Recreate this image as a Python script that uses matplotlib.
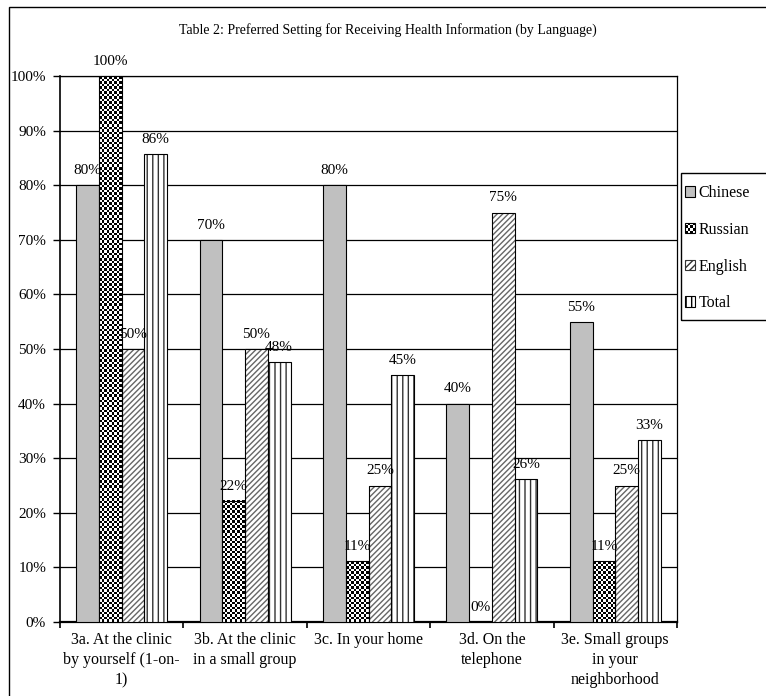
import numpy as np
import matplotlib.pyplot as plt
from matplotlib.patches import Rectangle
from matplotlib.legend_handler import HandlerBase

plt.rcParams['font.family'] = ['Liberation Serif', 'DejaVu Serif']
plt.rcParams['hatch.linewidth'] = 1.0

# data
categories = ['3a. At the clinic\nby yourself (1-on-\n1)', '3b. At the clinic\nin a small group',
              '3c. In your home', '3d. On the\ntelephone', '3e. Small groups\nin your\nneighborhood']
series = ['Chinese', 'Russian', 'English', 'Total']
chinese = [80, 70, 80, 40, 55]
russian = [100, 22.2, 11.1, 0, 11.1]
english = [50, 50, 25, 75, 25]
total = [85.7, 47.6, 45.2, 26.2, 33.3]
values = [chinese, russian, english, total]
title = 'Table 2: Preferred Setting for Receiving Health Information (by Language)'

W, H = 766, 696
fig = plt.figure(figsize=(W / 100, H / 100), dpi=100)
ax = fig.add_axes([60 / W, 1 - 622 / H, 617 / W, 546 / H])

x = np.arange(len(categories))
bw = 0.184
offs = [-1.5 * bw, -0.5 * bw, 0.5 * bw, 1.5 * bw]

ax.set_xlim(-0.5, len(categories) - 0.5)
ax.set_ylim(0, 100)

# chinese - grey fill
ax.bar(x + offs[0], chinese, bw, color='#c0c0c0', edgecolor='black', lw=0.8, zorder=3)

# russian - checkerboard image clipped into each bar
px_per_unit_y = 546 / 100.0
for xi, v in zip(x + offs[1], russian):
    if v <= 0:
        continue
    ncol = 9
    nrow = max(1, int(round(v * px_per_unit_y / (22.7 / ncol))))
    ii, jj = np.indices((nrow, ncol))
    chk = ((ii + jj) % 2).astype(float)
    ax.imshow(chk, cmap='gray', vmin=0, vmax=1, aspect='auto', interpolation='nearest',
              extent=(xi - bw / 2, xi + bw / 2, 0, v), zorder=3)
ax.bar(x + offs[1], russian, bw, fill=False, edgecolor='black', lw=0.8, zorder=4)

# english - diagonal hatch
ax.bar(x + offs[2], english, bw, color='white', edgecolor='#666666', hatch='//////', lw=0, zorder=3)
ax.bar(x + offs[2], english, bw, fill=False, edgecolor='black', lw=0.8, zorder=4)

# total - vertical lines
ax.bar(x + offs[3], total, bw, color='white', edgecolor='#333333', hatch='|||', lw=0, zorder=3)
ax.bar(x + offs[3], total, bw, fill=False, edgecolor='black', lw=0.8, zorder=4)

# value labels
for off, vals in zip(offs, values):
    for xi, v in zip(x + off, vals):
        ax.annotate('%.0f%%' % v, (xi, v), xytext=(0, 8), textcoords='offset points',
                    ha='center', va='baseline', fontsize=11, zorder=6)

ax.set_xticks(x)
ax.set_xticklabels(categories, fontsize=11.5, linespacing=1.35)
ax.set_xticks(np.arange(len(categories) + 1) - 0.5, minor=True)
ax.tick_params(axis='x', which='major', length=0, pad=7)
ax.tick_params(axis='x', which='minor', length=4, width=1.2, direction='out')
ax.set_yticks(np.arange(0, 101, 10))
ax.set_yticklabels(['%d%%' % t for t in range(0, 101, 10)], fontsize=11)
ax.tick_params(axis='y', length=5, width=1, pad=5)
ax.yaxis.grid(True, color='black', lw=0.9)
ax.set_axisbelow(True)
for s in ax.spines.values():
    s.set_color('black')
    s.set_linewidth(0.9)
ax.spines['bottom'].set_linewidth(1.6)
ax.spines['left'].set_linewidth(1.2)

fig.text(388 / W, 1 - 30 / H, title, ha='center', va='center', fontsize=10)


# legend
class CheckerHandler(HandlerBase):
    def legend_artist(self, legend, orig_handle, fontsize, handlebox):
        x0, y0 = -handlebox.xdescent, -handlebox.ydescent
        w, h = handlebox.width, handlebox.height
        n = 4
        for i in range(n):
            for j in range(n):
                if (i + j) % 2 == 0:
                    r = Rectangle((x0 + i * w / n, y0 + j * h / n), w / n, h / n,
                                  facecolor='black', lw=0, transform=handlebox.get_transform())
                    handlebox.add_artist(r)
        b = Rectangle((x0, y0), w, h, fill=False, edgecolor='black', lw=0.8,
                      transform=handlebox.get_transform())
        handlebox.add_artist(b)
        return b


handles = [Rectangle((0, 0), 1, 1, facecolor='#c0c0c0', edgecolor='black', lw=0.8),
           Rectangle((0, 0), 1, 1, facecolor='white', edgecolor='black', lw=0.8),
           Rectangle((0, 0), 1, 1, facecolor='white', edgecolor='#333333', hatch='/////', lw=0.8),
           Rectangle((0, 0), 1, 1, facecolor='white', edgecolor='black', hatch='|||', lw=0.8)]
fig.legend(handles, series, handler_map={handles[1]: CheckerHandler()},
           loc='upper left', bbox_to_anchor=(685 / W, 1 - 185 / H), frameon=False,
           fontsize=11.5, handlelength=0.65, handleheight=0.65, handletextpad=0.2,
           labelspacing=1.3, borderpad=0, borderaxespad=0)
fig.patches.append(Rectangle((681 / W, 1 - 320 / H), 0.2, 147 / H, transform=fig.transFigure,
                             fill=False, edgecolor='black', lw=1, figure=fig))

# outer frame
fig.patches.append(Rectangle((9 / W, -0.05), 1.0, 1 - 7 / H + 0.05, transform=fig.transFigure,
                             fill=False, edgecolor='black', lw=1, figure=fig))

fig.savefig('out.png', dpi=100)
